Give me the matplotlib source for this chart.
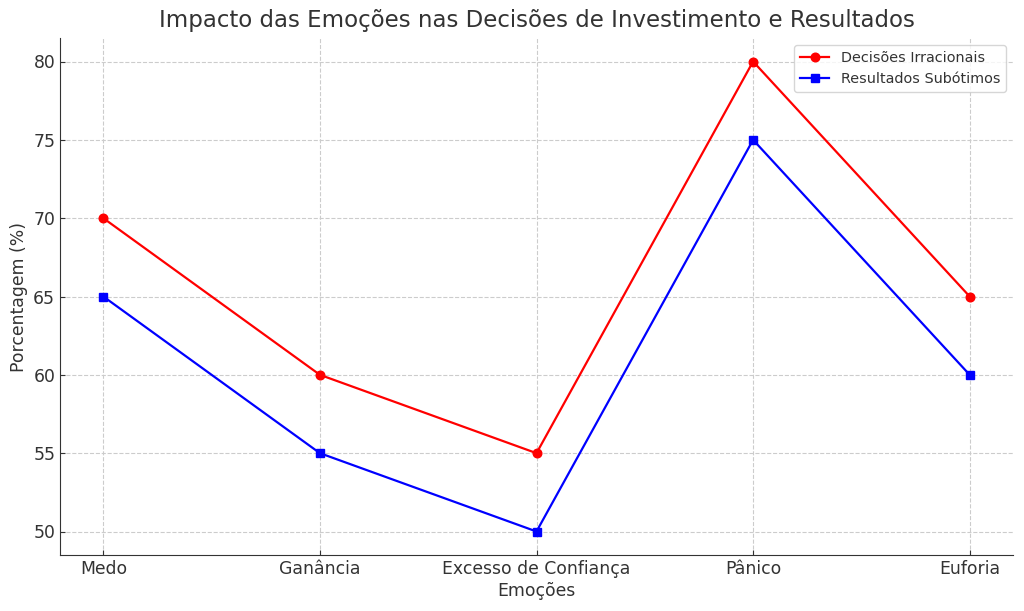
import matplotlib
matplotlib.use("Agg")
import matplotlib.pyplot as plt

emocoes = ["Medo", "Ganância", "Excesso de Confiança", "Pânico", "Euforia"]
decisoes_irracionais = [70, 60, 55, 80, 65]
resultados_subotimos = [65, 55, 50, 75, 60]

plt.rcParams['font.family'] = ['DejaVu Sans']
plt.rcParams['text.color'] = '#333333'
plt.rcParams['axes.labelcolor'] = '#333333'
plt.rcParams['xtick.color'] = '#333333'
plt.rcParams['ytick.color'] = '#333333'

fig = plt.figure(figsize=(10.24, 6.11), dpi=100)
ax = fig.add_axes([60/1024, 1-555/611, (1013-60)/1024, (555-38)/611])

ax.plot(emocoes, decisoes_irracionais, color='red', marker='o', linewidth=1.6,
        markersize=6.2, label='Decisões Irracionais')
ax.plot(emocoes, resultados_subotimos, color='blue', marker='s', linewidth=1.6,
        markersize=6.2, label='Resultados Subótimos')

ax.set_title('Impacto das Emoções nas Decisões de Investimento e Resultados', fontsize=16.5, color='#333333', pad=8)
ax.set_xlabel('Emoções', fontsize=12.4, labelpad=3)
ax.set_ylabel('Porcentagem (%)', fontsize=12.4)
ax.tick_params(axis='both', direction='in', labelsize=12.4)
ax.grid(True, linestyle='--', color='#cccccc', linewidth=0.8)
ax.spines['top'].set_visible(False)
ax.spines['right'].set_visible(False)
for s in ['left', 'bottom']:
    ax.spines[s].set_color('#333333')
ax.legend(loc='upper right', fontsize=10.4)

fig.savefig('out.png', dpi=100)
